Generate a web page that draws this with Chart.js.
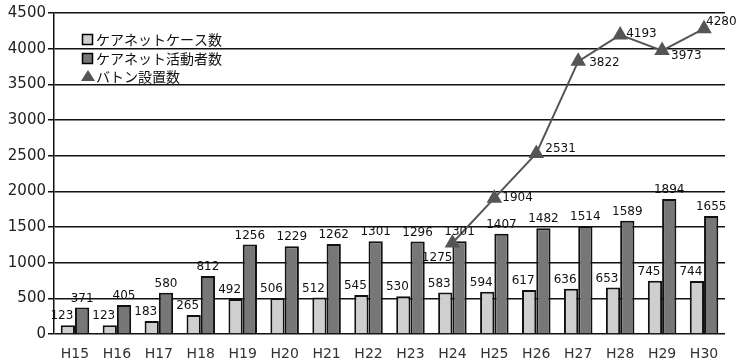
<!DOCTYPE html>
<html>
<head>
<meta charset="utf-8">
<script src="https://cdn.jsdelivr.net/npm/chart.js@4"></script>
<style>
  html, body { margin: 0; padding: 0; background: #fff; }
  #wrap { width: 740px; height: 362px; }
</style>
</head>
<body>
<div id="wrap"><canvas id="customChart"></canvas></div>
<script>
let labels = ['H15', 'H16', 'H17', 'H18', 'H19', 'H20', 'H21', 'H22', 'H23', 'H24', 'H25', 'H26', 'H27', 'H28', 'H29', 'H30'];
let caseCounts = [123, 123, 183, 265, 492, 506, 512, 545, 530, 583, 594, 617, 636, 653, 745, 744];
let activeCounts = [371, 405, 580, 812, 1256, 1229, 1262, 1301, 1296, 1301, 1407, 1482, 1514, 1589, 1894, 1655];
let batonCounts = [null, null, null, null, null, null, null, null, null, 1275, 1904, 2531, 3822, 4193, 3973, 4280];
let seriesNames = ['ケアネットケース数', 'ケアネット活動者数', 'バトン設置数'];
let yTicks = { min: 0, max: 4500, step: 500 };

let numFont = '"DejaVu Sans", sans-serif';
let jpFont = '"Noto Sans CJK JP", sans-serif';

// label nudges for the line points (dx, dy, align)
let lineLabelPos = {
  9: [0, 15, 'right'],
  10: [8, 0, 'left'],
  11: [9, -5, 'left'],
  12: [11, 2, 'left'],
  13: [6, -1, 'left'],
  14: [9, 5, 'left'],
  15: [2, -7, 'left']
};

const valueLabels = {
  id: 'valueLabels',
  afterDatasetsDraw(chart) {
    let ctx = chart.ctx;
    ctx.save();
    ctx.fillStyle = '#111';
    ctx.font = '12px ' + numFont;
    chart.data.datasets.forEach((ds, di) => {
      let meta = chart.getDatasetMeta(di);
      meta.data.forEach((el, i) => {
        let v = ds.data[i];
        if (v == null) return;
        if (ds.type === 'line') {
          let p = lineLabelPos[i] || [8, 0, 'left'];
          ctx.textAlign = p[2];
          ctx.textBaseline = 'middle';
          ctx.fillText(v, el.x + p[0], el.y + p[1]);
        } else {
          ctx.textAlign = 'center';
          ctx.textBaseline = 'bottom';
          let dx = di === 0 ? -6 : 0;
          ctx.fillText(v, el.x + dx, el.y - 3);
        }
      });
    });
    ctx.restore();
  }
};

const boxLegend = {
  id: 'boxLegend',
  afterDraw(chart) {
    let ctx = chart.ctx;
    let x = 82, ys = [39, 58, 76];
    ctx.save();
    ctx.font = '14px ' + jpFont;
    ctx.textBaseline = 'middle';
    ctx.textAlign = 'left';
    chart.data.datasets.forEach((ds, i) => {
      let y = ys[i];
      if (ds.type === 'line') {
        ctx.fillStyle = '#555';
        ctx.beginPath();
        ctx.moveTo(x + 6, y - 6);
        ctx.lineTo(x + 13, y + 5);
        ctx.lineTo(x - 1, y + 5);
        ctx.closePath();
        ctx.fill();
      } else {
        ctx.fillStyle = ds.backgroundColor;
        ctx.fillRect(x, y - 5, 11, 11);
        ctx.strokeStyle = '#000';
        ctx.lineWidth = 1.5;
        ctx.strokeRect(x + 0.5, y - 4.5, 10, 10);
      }
      ctx.fillStyle = '#111';
      ctx.fillText(ds.label, x + 14, y + 1);
    });
    ctx.restore();
  }
};

let ctx = document.getElementById('customChart').getContext('2d');

let myChart = new Chart(ctx, {
  type: 'bar',
  data: {
    labels: labels,
    datasets: [{
      label: seriesNames[0],
      data: caseCounts,
      backgroundColor: '#cfcfcf',
      borderColor: '#111',
      borderWidth: 2,
      categoryPercentage: 0.68,
      barPercentage: 1.0,
      order: 1
    }, {
      label: seriesNames[1],
      data: activeCounts,
      backgroundColor: '#777777',
      borderColor: '#111',
      borderWidth: 2,
      categoryPercentage: 0.68,
      barPercentage: 1.0,
      order: 1
    }, {
      type: 'line',
      label: seriesNames[2],
      data: batonCounts,
      borderColor: '#555',
      backgroundColor: '#555',
      borderWidth: 2,
      pointStyle: 'triangle',
      pointRadius: 7,
      pointHoverRadius: 7,
      tension: 0,
      order: 0
    }]
  },
  options: {
    responsive: true,
    maintainAspectRatio: false,
    animation: false,
    layout: { padding: { top: 13, right: 15, left: 0, bottom: 0 } },
    plugins: {
      legend: { display: false },
      tooltip: { enabled: false }
    },
    scales: {
      x: {
        grid: { display: false },
        border: { display: false },
        ticks: { color: '#333', font: { size: 14, family: numFont }, padding: 4 },
        afterFit: (scale) => { scale.height = 28; }
      },
      y: {
        min: yTicks.min,
        max: yTicks.max,
        ticks: {
          stepSize: yTicks.step,
          color: '#222',
          font: { size: 15, family: numFont },
          padding: 2,
          callback: (v) => String(v)
        },
        grid: { color: '#111', lineWidth: 1.5, tickLength: 6 },
        border: { display: true, color: '#111', width: 1.5 },
        afterFit: (scale) => { scale.width = 54; }
      }
    }
  },
  plugins: [valueLabels, boxLegend]
});
</script>
</body>
</html>
